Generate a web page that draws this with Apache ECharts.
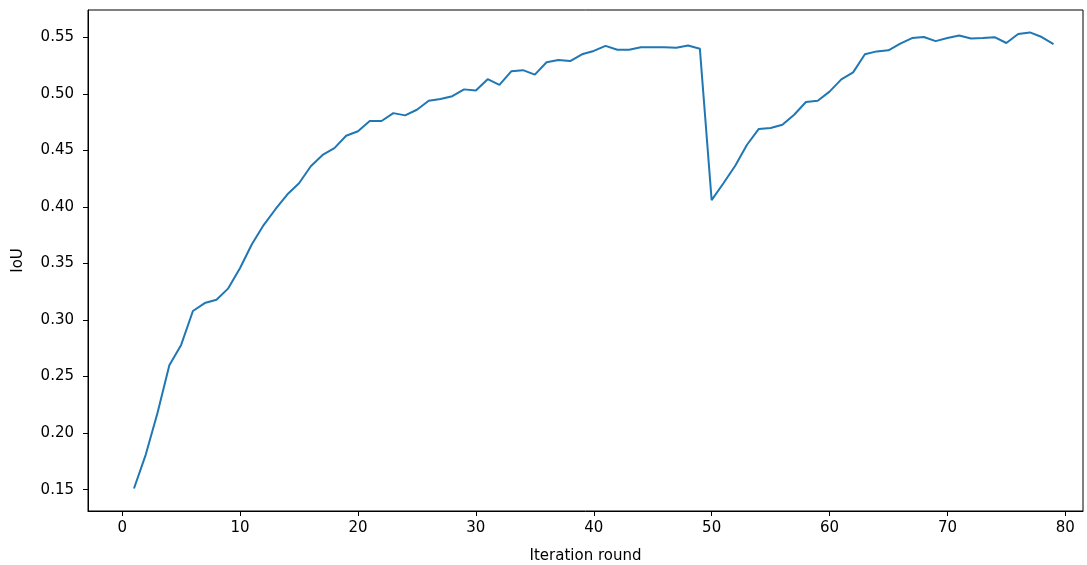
<!DOCTYPE html>
<html>
<head>
<meta charset="utf-8">
<script src="https://cdn.jsdelivr.net/npm/echarts@6/dist/echarts.min.js"></script>
<style>html,body{margin:0;padding:0;background:#fff}#c{width:1087px;height:565px}</style>
</head>
<body>
<div id="c"></div>
<script>
const rounds = [];
for (let i = 1; i <= 79; i++) rounds.push(i);
const iou = [
  0.151, 0.181, 0.218, 0.260, 0.278, 0.308, 0.315, 0.318, 0.328, 0.346,
  0.367, 0.384, 0.398, 0.411, 0.421, 0.436, 0.446, 0.452, 0.463, 0.467,
  0.476, 0.476, 0.483, 0.481, 0.486, 0.494, 0.4955, 0.498, 0.504, 0.503,
  0.513, 0.508, 0.520, 0.521, 0.517, 0.528, 0.530, 0.529, 0.535, 0.538,
  0.5425, 0.539, 0.539, 0.5412, 0.5412, 0.5413, 0.5408, 0.5428, 0.540, 0.406,
  0.421, 0.4365, 0.455, 0.469, 0.4698, 0.4727, 0.4816, 0.4928, 0.494, 0.502,
  0.5128, 0.519, 0.535, 0.5376, 0.5385, 0.5444, 0.5494, 0.5503, 0.5467, 0.5494,
  0.5516, 0.549, 0.5494, 0.5502, 0.545, 0.553, 0.5544, 0.5503, 0.5441
];
const xTicks = [0, 10, 20, 30, 40, 50, 60, 70, 80];
const yTicks = [0.15, 0.20, 0.25, 0.30, 0.35, 0.40, 0.45, 0.50, 0.55];

const font = 'DejaVu Sans';
const chart = echarts.init(document.getElementById('c'), null, {renderer: 'canvas'});
chart.setOption({
  animation: false,
  backgroundColor: '#ffffff',
  grid: {left: 88, right: 4, top: 10, bottom: 54, show: true, borderColor: '#000', borderWidth: 1,
    containLabel: false, outerBoundsMode: 'none'},
  xAxis: {
    type: 'value', min: -2.9, max: 81.5,
    name: 'Iteration round', nameLocation: 'middle', nameGap: 38,
    nameTextStyle: {fontFamily: font, fontSize: 15, color: '#000'},
    axisLine: {show: true, onZero: false, lineStyle: {color: '#000', width: 1}},
    axisTick: {show: true, length: 5, customValues: xTicks, lineStyle: {color: '#000'}},
    axisLabel: {show: true, customValues: xTicks, margin: 10, fontFamily: font, fontSize: 15, color: '#000'},
    splitLine: {show: false}
  },
  yAxis: {
    type: 'value', min: 0.1311, max: 0.5742,
    name: 'IoU', nameLocation: 'middle', nameGap: 62, nameRotate: 90,
    nameTextStyle: {fontFamily: font, fontSize: 15, color: '#000'},
    axisLine: {show: true, onZero: false, lineStyle: {color: '#000', width: 1}},
    axisTick: {show: true, length: 5, customValues: yTicks, lineStyle: {color: '#000'}},
    axisLabel: {show: true, customValues: yTicks, margin: 14, fontFamily: font, fontSize: 15, color: '#000',
      formatter: v => v.toFixed(2)},
    splitLine: {show: false}
  },
  series: [{
    type: 'line',
    data: rounds.map((r, i) => [r, iou[i]]),
    showSymbol: false,
    lineStyle: {color: '#1f77b4', width: 2},
    itemStyle: {color: '#1f77b4'}
  }]
});
</script>
</body>
</html>
